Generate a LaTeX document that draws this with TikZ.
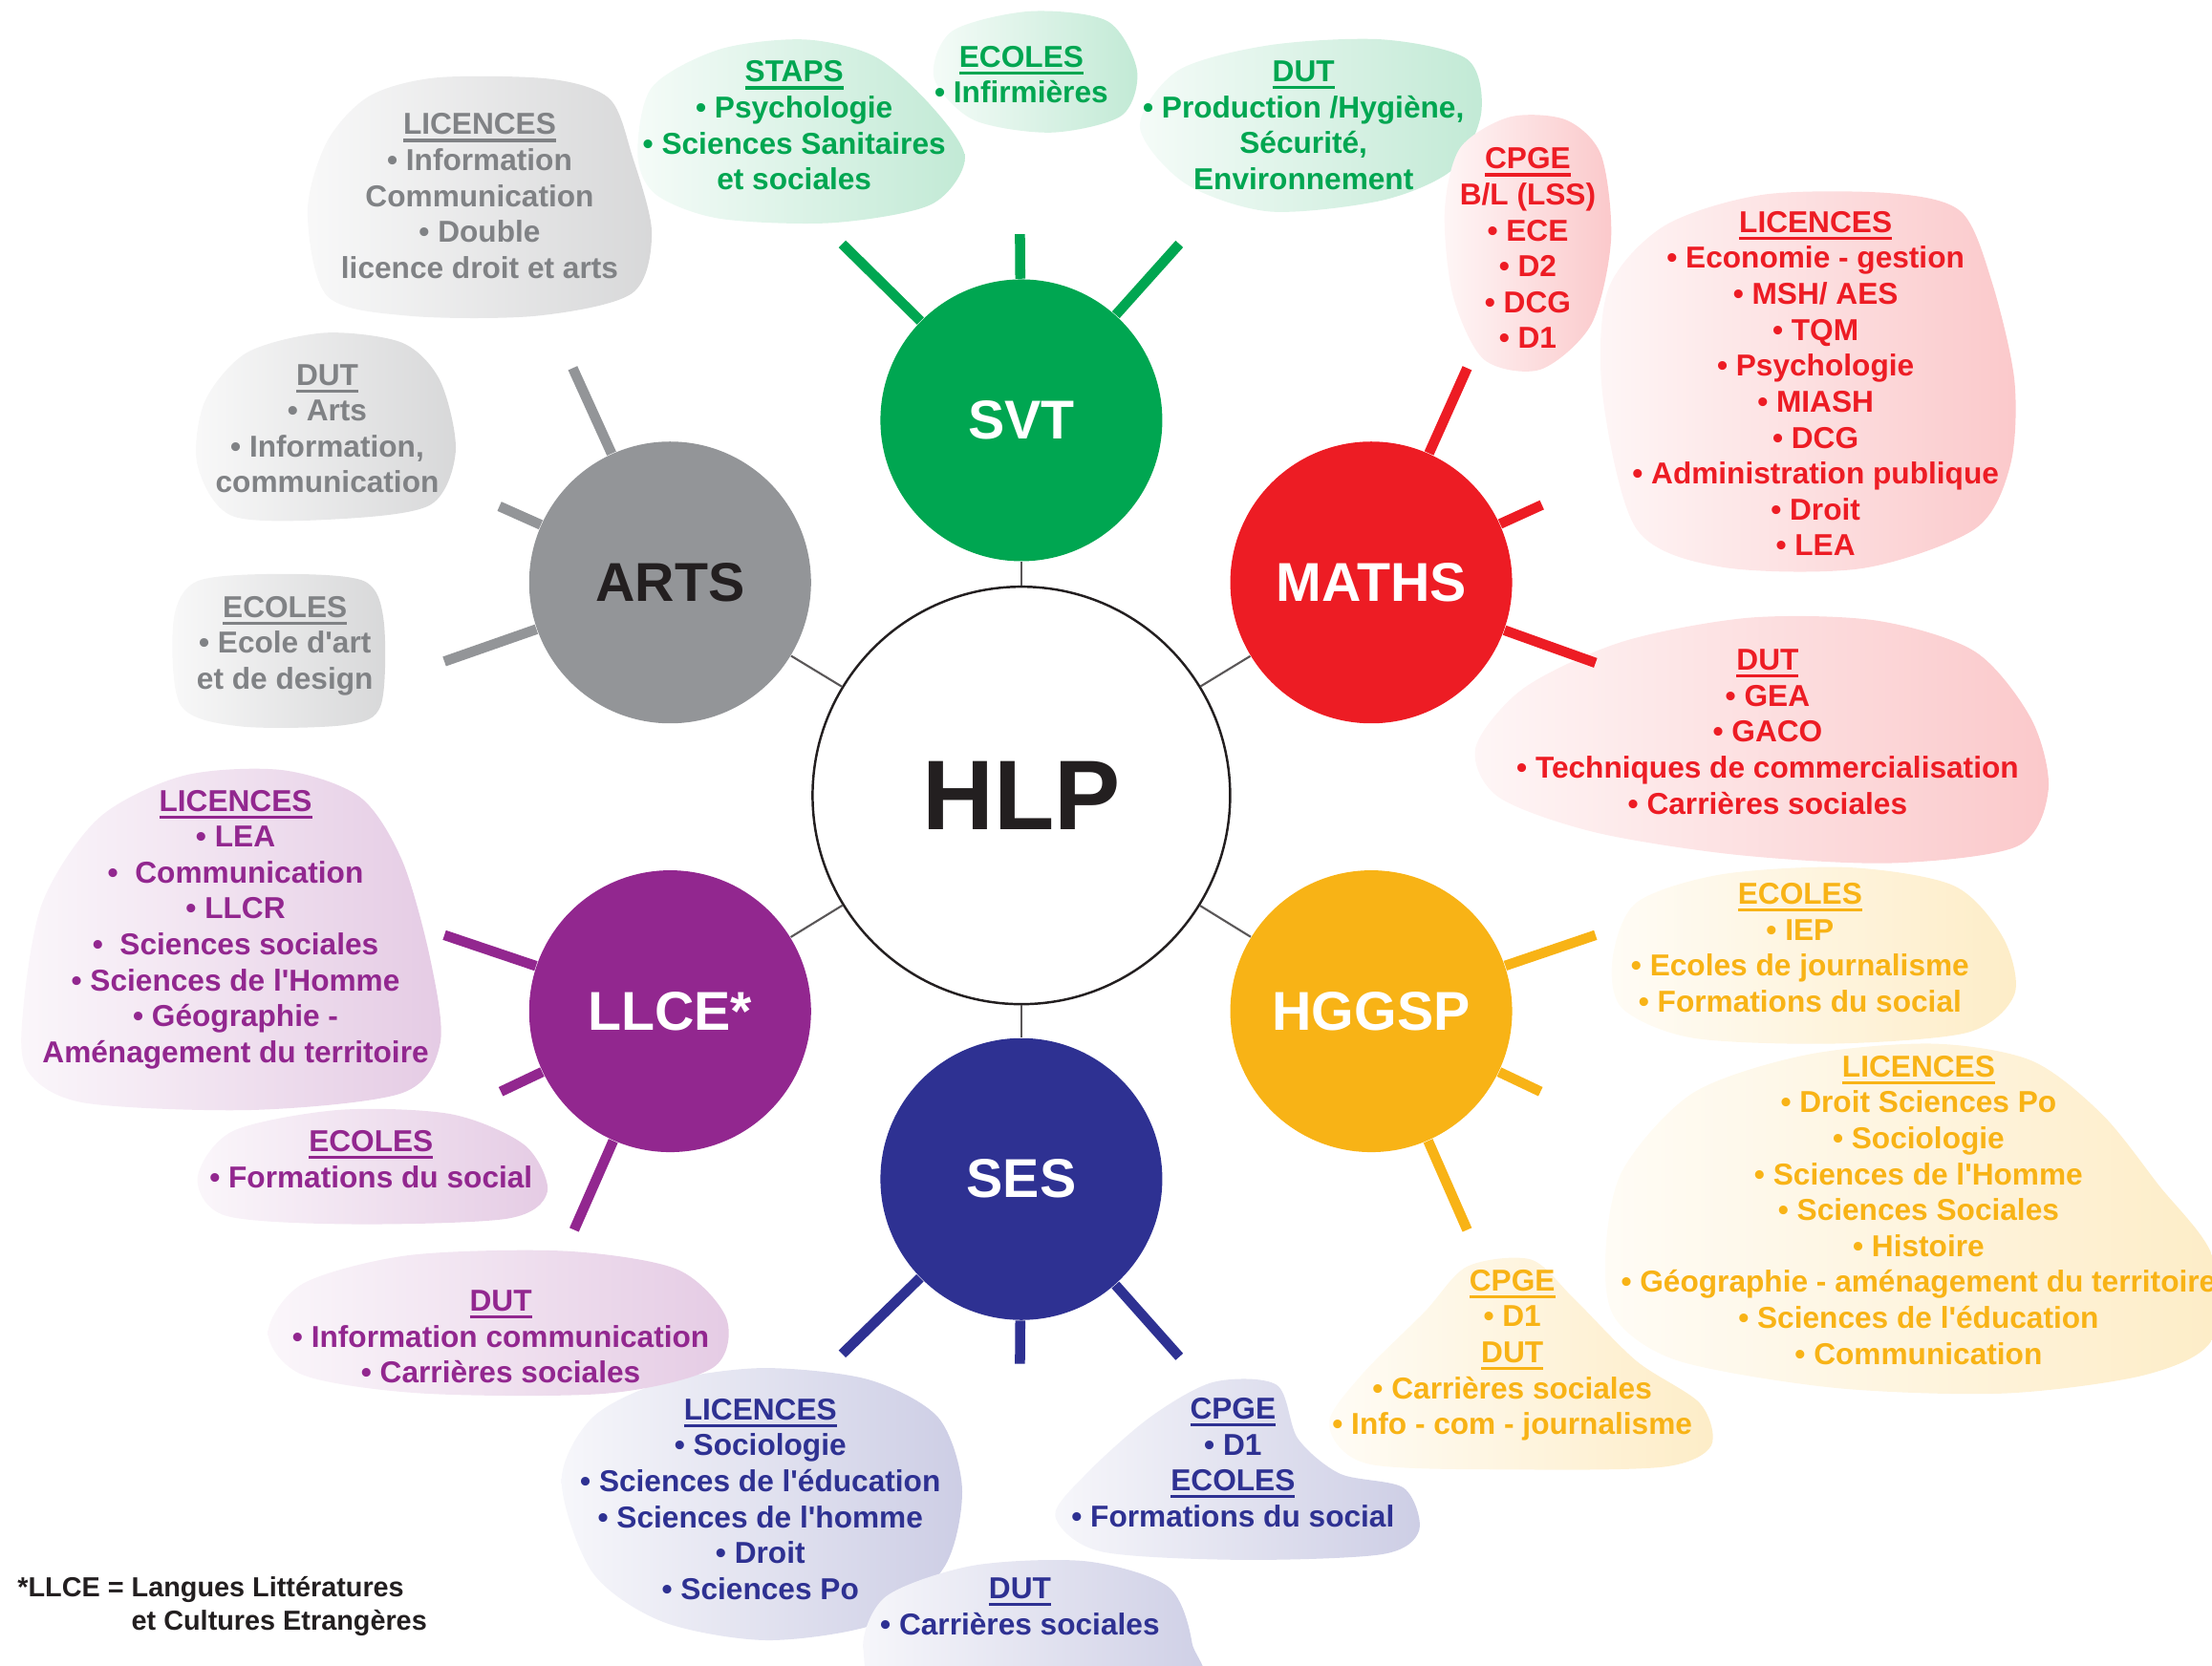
\documentclass[tikz,border=0pt]{standalone}
\usepackage{fontspec}
\setmainfont{Liberation Sans}[Ligatures=TeXOff]
\usepackage{tikz}
\usetikzlibrary{calc, positioning}

\definecolor{ink}{RGB}{35,31,32}
\definecolor{svtcol}{RGB}{0,166,81}
\definecolor{mathscol}{RGB}{237,28,36}
\definecolor{hggspcol}{RGB}{248,179,22}
\definecolor{sescol}{RGB}{46,49,146}
\definecolor{llcecol}{RGB}{146,39,143}
\definecolor{artscol}{RGB}{147,149,152}
\definecolor{artstext}{RGB}{128,130,133}
\definecolor{artsblob}{RGB}{90,92,96}

% underlined heading inside a cloud
\newcommand{\ulh}[1]{\setbox0=\hbox{#1}\rlap{\vrule height -1.3pt depth 2.2pt width \wd0}\box0}

\tikzset{
subject/.style={circle, fill=#1, minimum size=2.95cm, inner sep=0pt, text=white, font=\fontsize{16.3}{18}\selectfont\bfseries}, % the six speciality discs
hub/.style={circle, draw=ink, line width=0.7pt, fill=white, minimum size=4.37cm, text=ink, font=\fontsize{29.5}{32}\selectfont\bfseries}, % the HLP disc
link/.style={draw=ink!75, line width=0.6pt}, % thin lines from HLP to the discs
spoke/.style={draw=#1, line width=3pt}, % thick rays of a disc
blob/.style={left color=#1!4, right color=#1!24}, % pale clouds
info/.style={align=center, inner sep=0pt, text=#1, font=\fontsize{9}{10.7}\selectfont\bfseries}, % texts of the clouds
}

\begin{document}
\begin{tikzpicture}[x=0.14764mm, y=-0.14764mm]% one unit = one pixel of the sketch
  \useasboundingbox (0,0) rectangle (1568,1181);

  % clouds
  \shade[blob=artsblob] plot[smooth cycle] coordinates {(218,150) (232,100) (262,68) (310,55) (390,56) (432,70) (448,110) (462,165) (448,208) (380,224) (290,224) (232,210)};
  \shade[blob=artsblob] plot[smooth cycle] coordinates {(140,330) (145,285) (175,250) (230,236) (285,243) (312,270) (323,320) (305,358) (240,368) (165,366)};
  \shade[blob=artsblob] plot[smooth cycle] coordinates {(123,440) (140,412) (200,407) (258,412) (272,440) (270,500) (245,514) (170,515) (128,500)};

  \shade[blob=svtcol] plot[smooth cycle] coordinates {(452,110) (462,62) (510,35) (570,28) (620,40) (660,75) (684,112) (660,145) (590,158) (510,155) (465,138)};
  \shade[blob=svtcol] plot[smooth cycle] coordinates {(662,55) (675,22) (730,8) (785,15) (806,50) (795,82) (745,94) (690,85)};
  \shade[blob=svtcol] plot[smooth cycle] coordinates {(808,90) (835,50) (900,32) (980,28) (1040,42) (1050,80) (1030,120) (980,142) (900,150) (840,130)};

  \shade[blob=mathscol] plot[smooth cycle] coordinates {(1024,150) (1035,105) (1070,83) (1110,85) (1135,110) (1142,170) (1128,230) (1092,262) (1052,255) (1030,210)};
  \shade[blob=mathscol] plot[smooth cycle] coordinates {(1136,280) (1140,205) (1180,160) (1250,138) (1340,137) (1390,150) (1412,200) (1428,270) (1425,330) (1400,375) (1320,403) (1220,402) (1160,375)};
  \shade[blob=mathscol] plot[smooth cycle] coordinates {(1046,530) (1080,488) (1150,455) (1240,438) (1330,440) (1400,462) (1440,510) (1452,560) (1430,600) (1340,612) (1230,606) (1130,590) (1062,565)};

  \shade[blob=hggspcol] plot[smooth cycle] coordinates {(1143,680) (1160,640) (1220,620) (1310,615) (1385,628) (1420,665) (1428,705) (1395,732) (1300,740) (1200,736) (1150,715)};
  \shade[blob=hggspcol] plot[smooth cycle] coordinates {(1138,890) (1150,830) (1200,775) (1280,748) (1370,740) (1440,752) (1490,790) (1530,840) (1568,890) (1568,950) (1520,975) (1420,988) (1300,984) (1190,965) (1145,935)};
  \shade[blob=hggspcol] plot[smooth cycle] coordinates {(942,1010) (965,975) (1010,930) (1040,898) (1085,893) (1115,920) (1160,965) (1205,995) (1213,1025) (1180,1040) (1080,1042) (970,1038)};

  \shade[blob=sescol] plot[smooth cycle] coordinates {(398,1050) (420,1005) (470,980) (540,970) (615,978) (665,1005) (682,1055) (670,1110) (625,1150) (545,1163) (470,1150) (420,1115)};
  \shade[blob=sescol] plot[smooth cycle] coordinates {(748,1075) (770,1045) (815,1005) (860,980) (905,982) (920,1020) (950,1045) (995,1055) (1006,1085) (980,1102) (880,1106) (780,1100)};
  \shade[blob=sescol] plot[smooth cycle] coordinates {(612,1170) (628,1132) (690,1110) (770,1107) (828,1125) (845,1165) (840,1200) (640,1200)};

  \shade[blob=llcecol] plot[smooth cycle] coordinates {(16,720) (30,640) (70,580) (130,550) (200,546) (255,565) (285,610) (305,680) (312,740) (285,775) (180,787) (60,782) (20,760)};
  \shade[blob=llcecol] plot[smooth cycle] coordinates {(140,835) (165,802) (240,787) (320,790) (372,812) (388,845) (360,864) (250,868) (160,862)};
  \shade[blob=llcecol] plot[smooth cycle] coordinates {(190,945) (215,910) (290,890) (400,887) (480,900) (515,935) (505,970) (430,988) (300,988) (215,975)};

  % discs
  \node[hub] (hlp) at (724,564) {HLP};
  \node[subject=svtcol] (svt) at (724,298) {SVT};
  \node[subject=mathscol] (maths) at (972,413) {MATHS};
  \node[subject=hggspcol] (hggsp) at (972,717) {HGGSP};
  \node[subject=sescol] (ses) at (724,836) {SES};
  \node[subject=llcecol] (llce) at (475,717) {LLCE*};
  \node[subject=artscol, text=ink] (arts) at (475,413) {ARTS};

  % free ends of the rays
  \coordinate (svt-1) at (597,173);
  \coordinate (svt-2) at (723,166);
  \coordinate (svt-3) at (836,173);
  \coordinate (maths-1) at (1040,261);
  \coordinate (maths-2) at (1093,358);
  \coordinate (maths-3) at (1131,470);
  \coordinate (hggsp-1) at (1131,663);
  \coordinate (hggsp-2) at (1092,774);
  \coordinate (hggsp-3) at (1040,872);
  \coordinate (ses-1) at (597,960);
  \coordinate (ses-2) at (723,967);
  \coordinate (ses-3) at (836,962);
  \coordinate (llce-1) at (315,663);
  \coordinate (llce-2) at (355,774);
  \coordinate (llce-3) at (407,872);
  \coordinate (arts-1) at (406,261);
  \coordinate (arts-2) at (354,359);
  \coordinate (arts-3) at (315,469);

  \path[link] (hlp) edge (svt) edge (maths) edge (hggsp) edge (ses) edge (llce) edge (arts);

  \path[spoke=svtcol] (svt) edge (svt-1) edge (svt-2) edge (svt-3);
  \path[spoke=mathscol] (maths) edge (maths-1) edge (maths-2) edge (maths-3);
  \path[spoke=hggspcol] (hggsp) edge (hggsp-1) edge (hggsp-2) edge (hggsp-3);
  \path[spoke=sescol] (ses) edge (ses-1) edge (ses-2) edge (ses-3);
  \path[spoke=llcecol] (llce) edge (llce-1) edge (llce-2) edge (llce-3);
  \path[spoke=artscol] (arts) edge (arts-1) edge (arts-2) edge (arts-3);

  % texts of the clouds
  \node[info=artstext] (arts-lic) at (340,139) {\ulh{LICENCES}\\• Information\\Communication\\• Double\\licence droit et arts};
  \node[info=artstext] (arts-dut) at (232,304) {\ulh{DUT}\\• Arts\\• Information,\\communication};
  \node[info=artstext] (arts-eco) at (202,458) {\ulh{ECOLES}\\• Ecole d'art\\et de design};

  \node[info=svtcol] (svt-staps) at (563,89) {\ulh{STAPS}\\• Psychologie\\• Sciences Sanitaires\\et sociales};
  \node[info=svtcol] (svt-eco) at (724,53) {\ulh{ECOLES}\\• Infirmières};
  \node[info=svtcol] (svt-dut) at (924,89) {\ulh{DUT}\\• Production /Hygiène,\\Sécurité,\\Environnement};

  \node[info=mathscol] (maths-cpge) at (1083,176) {\ulh{CPGE}\\B/L (LSS)\\• ECE\\• D2\\• DCG\\• D1};
  \node[info=mathscol] (maths-lic) at (1287,272) {\ulh{LICENCES}\\• Economie - gestion\\• MSH/ AES\\• TQM\\• Psychologie\\• MIASH\\• DCG\\• Administration publique\\• Droit\\• LEA};
  \node[info=mathscol] (maths-dut) at (1253,519) {\ulh{DUT}\\• GEA\\• GACO\\• Techniques de commercialisation\\• Carrières sociales};

  \node[info=hggspcol] (hggsp-eco) at (1276,672) {\ulh{ECOLES}\\• IEP\\• Ecoles de journalisme\\• Formations du social};
  \node[info=hggspcol] (hggsp-lic) at (1360,858) {\ulh{LICENCES}\\• Droit Sciences Po\\• Sociologie\\• Sciences de l'Homme\\• Sciences Sociales\\• Histoire\\• Géographie - aménagement du territoire\\• Sciences de l'éducation\\• Communication};
  \node[info=hggspcol] (hggsp-cpge) at (1072,961) {\ulh{CPGE}\\• D1\\\ulh{DUT}\\• Carrières sociales\\• Info - com - journalisme};

  \node[info=sescol] (ses-lic) at (539,1063) {\ulh{LICENCES}\\• Sociologie\\• Sciences de l'éducation\\• Sciences de l'homme\\• Droit\\• Sciences Po};
  \node[info=sescol] (ses-cpge) at (874,1037) {\ulh{CPGE}\\• D1\\\ulh{ECOLES}\\• Formations du social};
  \node[info=sescol] (ses-dut) at (723,1139) {\ulh{DUT}\\• Carrières sociales};

  \node[info=llcecol] (llce-lic) at (167,659) {\ulh{LICENCES}\\• LEA\\•~ Communication\\• LLCR\\•~ Sciences sociales\\• Sciences de l'Homme\\• Géographie -\\Aménagement du territoire};
  \node[info=llcecol] (llce-eco) at (263,822) {\ulh{ECOLES}\\• Formations du social};
  \node[info=llcecol] (llce-dut) at (355,948) {\ulh{DUT}\\• Information communication\\• Carrières sociales};

  \node[anchor=west, align=left, inner sep=0pt, text=ink, font=\fontsize{8.2}{10}\selectfont\bfseries] (note) at (12,1139) {*LLCE = Langues Littératures\\\phantom{*LLCE = }et Cultures Etrangères};
\end{tikzpicture}
\end{document}
